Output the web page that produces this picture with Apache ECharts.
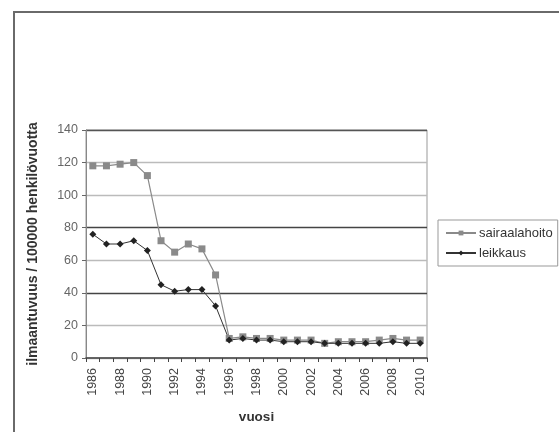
<!DOCTYPE html>
<html>
<head>
<meta charset="utf-8">
<script src="https://cdn.jsdelivr.net/npm/echarts@6/dist/echarts.min.js"></script>
<style>html,body{margin:0;padding:0;background:#fff}#c{width:559px;height:432px}</style>
</head>
<body>
<div id="c"></div>
<script>
var years = ['1986','1987','1988','1989','1990','1991','1992','1993','1994','1995','1996','1997','1998','1999','2000','2001','2002','2003','2004','2005','2006','2007','2008','2009','2010'];
var sairaalahoito = [118,118,119,120,112,72,65,70,67,51,12,13,12,12,11,11,11,9,10,10,10,11,12,11,11];
var leikkaus = [76,70,70,72,66,45,41,42,42,32,11,12,11,11,10,10,10,9,9,9,9,9,10,9,9];
var yTicks = [0,20,40,60,80,100,120,140];
var gridColors = ['#bbbbbb','#bbbbbb','#444444','#bbbbbb','#444444','#bbbbbb','#bbbbbb','#555555'];

var FONT = 'Liberation Sans';
var chart = echarts.init(document.getElementById('c'), null, {renderer:'canvas'});
chart.setOption({
  animation: false,
  backgroundColor: '#fff',
  graphic: [{
    type: 'rect', silent: true,
    shape: {x: 14, y: 12, width: 700, height: 600},
    style: {fill: 'none', stroke: '#6a6a6a', lineWidth: 2}
  }],
  grid: {left: 86, right: 132, top: 130, bottom: 74, show: true, borderColor: '#999', borderWidth: 1, containLabel: false},
  legend: {
    orient: 'vertical', left: 438, top: 220,
    padding: [6, 5, 6, 7],
    itemWidth: 30, itemHeight: 6, itemGap: 6,
    borderColor: '#999', borderWidth: 1,
    textStyle: {fontFamily: FONT, fontSize: 13, color: '#333', lineHeight: 14, padding: [0,0,0,-2]},
    data: ['sairaalahoito', 'leikkaus']
  },
  xAxis: {
    type: 'category', data: years, boundaryGap: true,
    name: 'vuosi', nameLocation: 'middle', nameGap: 52,
    nameTextStyle: {fontFamily: FONT, fontWeight: 'bold', fontSize: 13.5, color: '#333'},
    axisLine: {lineStyle: {color: '#444', width: 1.5}},
    axisTick: {show: true, interval: 0, length: 4, lineStyle: {color: '#444'}},
    axisLabel: {interval: 1, rotate: 90, margin: 10, fontFamily: FONT, fontSize: 12.5, color: '#444'},
    splitLine: {show: false}
  },
  yAxis: {
    type: 'value', min: 0, max: 140, interval: 20,
    name: 'ilmaantuvuus / 100000 henkilövuotta', nameLocation: 'middle', nameGap: 46, nameRotate: 90,
    nameTextStyle: {fontFamily: FONT, fontWeight: 'bold', fontSize: 14, color: '#333'},
    axisLine: {show: true, lineStyle: {color: '#888'}},
    axisTick: {show: true, length: 4, lineStyle: {color: '#666'}},
    axisLabel: {margin: 8, fontFamily: FONT, fontSize: 12.5, color: '#666',
      formatter: function(v){ return yTicks.indexOf(v) >= 0 ? String(v) : ''; }},
    splitLine: {show: true, lineStyle: {color: gridColors, width: 1.3}}
  },
  series: [{
    name: 'sairaalahoito', type: 'line', data: sairaalahoito,
    symbol: 'rect', symbolSize: 7,
    itemStyle: {color: '#8a8a8a'},
    lineStyle: {color: '#8a8a8a', width: 1.2}
  }, {
    name: 'leikkaus', type: 'line', data: leikkaus,
    symbol: 'diamond', symbolSize: 7,
    itemStyle: {color: '#222'},
    lineStyle: {color: '#333', width: 1}
  }]
});
</script>
</body>
</html>
